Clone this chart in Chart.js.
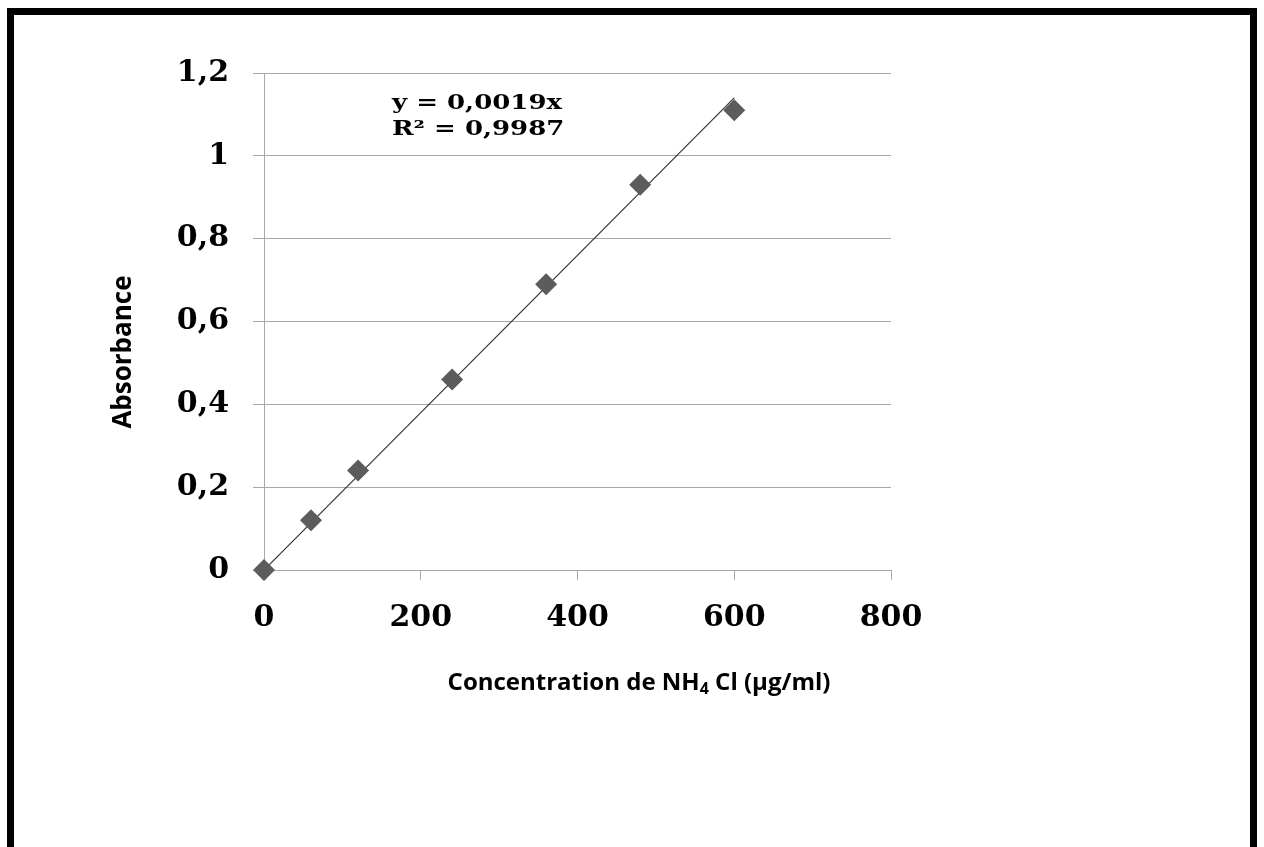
<!DOCTYPE html>
<html>
<head>
<meta charset="utf-8">
<script src="https://cdn.jsdelivr.net/npm/chart.js@4"></script>
<style>
  html, body { margin: 0; padding: 0; background: #fff; overflow: hidden; }
  #wrap { position: relative; width: 1264px; height: 847px; }
  #frame {
    position: absolute; left: 7px; top: 8px; width: 1250px; height: 900px;
    border: 7px solid #000; box-sizing: border-box;
  }
  #myChart { position: absolute; left: 0; top: 0; }
</style>
</head>
<body>
<div id="wrap">
  <div id="frame"></div>
  <canvas id="myChart" width="1264" height="847"></canvas>
</div>
<script>
"use strict";

// data
const concentrations = [0, 60, 120, 240, 360, 480, 600];
const absorbances = [0, 0.12, 0.24, 0.46, 0.69, 0.93, 1.11];

// linear trend line y = 0,0019x
const trendX = [0, 600];
const trendY = [0, 1.14];

const xTicks = [0, 200, 400, 600, 800];
const yTicks = [0, 0.2, 0.4, 0.6, 0.8, 1, 1.2];

const equationLines = ["y = 0,0019x", "R\u00b2 = 0,9987"];
const yTitle = "Absorbance";

const points = concentrations.map((c, i) => ({ x: c, y: absorbances[i] }));
const trend = trendX.map((x, i) => ({ x: x, y: trendY[i] }));

const fmt = (v) => String(Math.round(v * 10) / 10).replace(".", ",");

const tickFont = { family: "DejaVu Serif", size: 30, weight: "bold" };
const gridGray = "#a8a8a8";

// axis titles + equation text
const textPlugin = {
  id: "texts",
  afterDraw(chart) {
    const ctx = chart.ctx;
    ctx.save();
    ctx.fillStyle = "#000";

    // equation (the original is stretched sideways)
    ctx.save();
    ctx.translate(392, 0);
    ctx.scale(1.3, 1);
    ctx.font = "bold 20px 'DejaVu Serif'";
    ctx.textAlign = "left";
    ctx.textBaseline = "middle";
    ctx.fillText(equationLines[0], 0, 104);
    ctx.fillText(equationLines[1], 0, 130);
    ctx.restore();

    // x title with subscript 4
    const big = "bold 24px 'Open Sans'";
    const small = "bold 16px 'Open Sans'";
    const p1 = "Concentration de NH", p2 = "4", p3 = " Cl (\u00b5g/ml)";
    ctx.font = big;
    const w1 = ctx.measureText(p1).width, w3 = ctx.measureText(p3).width;
    ctx.font = small;
    const w2 = ctx.measureText(p2).width;
    let x = 639 - (w1 + w2 + w3) / 2;
    ctx.textBaseline = "alphabetic";
    ctx.textAlign = "left";
    ctx.font = big;
    ctx.fillText(p1, x, 690);
    x += w1;
    ctx.font = small;
    ctx.fillText(p2, x, 694);
    x += w2;
    ctx.font = big;
    ctx.fillText(p3, x, 690);

    // y title
    ctx.translate(124, 352);
    ctx.rotate(-Math.PI / 2);
    ctx.font = "bold 26px 'Open Sans'";
    ctx.textAlign = "center";
    ctx.textBaseline = "middle";
    ctx.fillText(yTitle, 0, 0);
    ctx.restore();
  }
};

new Chart(document.getElementById("myChart"), {
  type: "scatter",
  data: {
    datasets: [
      {
        type: "line",
        data: trend,
        borderColor: "#333333",
        borderWidth: 1.2,
        pointRadius: 0,
        fill: false,
        order: 2
      },
      {
        data: points,
        pointStyle: "rectRot",
        pointRadius: 11,
        backgroundColor: "#5c5c5c",
        borderColor: "#5c5c5c",
        borderWidth: 0,
        clip: false,
        order: 1
      }
    ]
  },
  options: {
    responsive: false,
    animation: false,
    layout: { padding: { top: 73, right: 373, left: 0, bottom: 0 } },
    plugins: { legend: { display: false }, tooltip: { enabled: false } },
    scales: {
      x: {
        type: "linear",
        min: 0,
        max: 800,
        afterBuildTicks: (s) => { s.ticks = xTicks.map((v) => ({ value: v })); },
        afterFit: (s) => { s.height = 847 - 570; },
        grid: { drawOnChartArea: false, drawTicks: true, tickLength: 10, color: gridGray },
        border: { color: gridGray, width: 1 },
        ticks: { font: tickFont, color: "#000", padding: 20, maxRotation: 0 }
      },
      y: {
        type: "linear",
        min: 0,
        max: 1.2,
        afterBuildTicks: (s) => { s.ticks = yTicks.map((v) => ({ value: v })); },
        afterFit: (s) => { s.width = 264; },
        grid: { color: gridGray, tickLength: 11 },
        border: { color: gridGray, width: 1 },
        ticks: { font: tickFont, color: "#000", padding: 24, callback: fmt }
      }
    }
  },
  plugins: [textPlugin]
});
</script>
</body>
</html>
